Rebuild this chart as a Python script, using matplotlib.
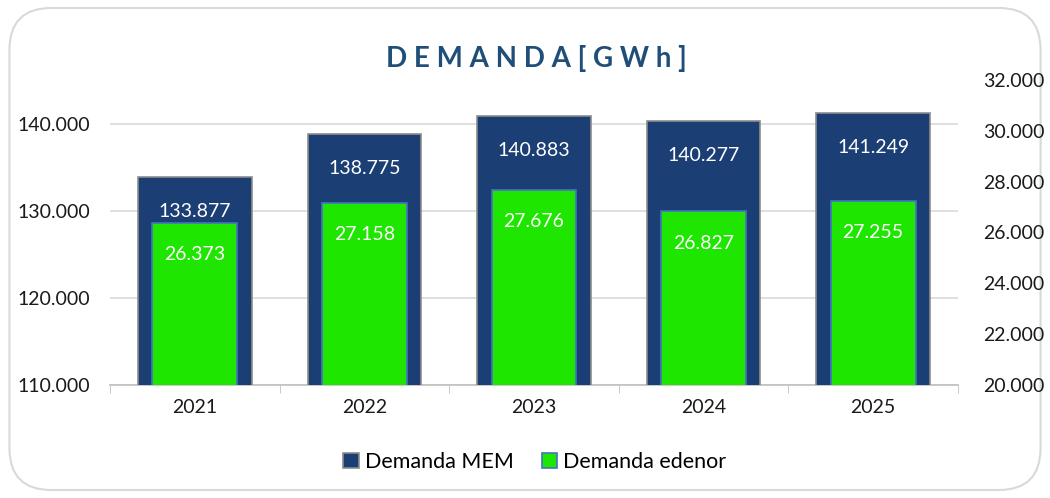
import numpy as np
import matplotlib.pyplot as plt
from matplotlib.patches import FancyBboxPatch

plt.rcParams['font.family'] = ['Lato', 'DejaVu Sans']

years = ['2021', '2022', '2023', '2024', '2025']
demanda_mem = [133877, 138775, 140883, 140277, 141249]
demanda_edenor = [26373, 27158, 27676, 26827, 27255]


def fmt(v):
    return f'{v:,.0f}'.replace(',', '.')


fig = plt.figure(figsize=(10.5, 4.98), dpi=100)
border = FancyBboxPatch((0.009, 0.016), 0.982, 0.968, boxstyle='round,pad=0,rounding_size=0.04',
                        transform=fig.transFigure, facecolor='white', edgecolor='#D9D9D9',
                        linewidth=1.5, mutation_aspect=1050 / 498, zorder=-5)
fig.patches.append(border)

ax = fig.add_axes([110 / 1050, 1 - 385 / 498, 848 / 1050, 305 / 498])
ax2 = ax.twinx()
ax.set_zorder(1)
ax2.set_zorder(2)
ax.patch.set_visible(False)
ax2.patch.set_visible(False)

x = np.arange(len(years))
b1 = ax.bar(x, demanda_mem, width=0.67, color='#1B3F74', edgecolor='#8C8C8C',
            linewidth=1.2, zorder=3)
ax.set_ylim(110000, 145000)
ax.set_xlim(-0.5, len(years) - 0.5)
ax.set_yticks([110000, 120000, 130000, 140000])
ax.set_yticklabels([fmt(v) for v in [110000, 120000, 130000, 140000]])
ax.grid(axis='y', color='#D9D9D9', linewidth=1.2, zorder=0)
ax.set_xticks(x)
ax.set_xticklabels(years)
ax.set_xticks(np.arange(-0.5, len(years)), minor=True)
ax.tick_params(axis='x', which='major', length=0, pad=10)
ax.tick_params(axis='x', which='minor', length=6, color='#BFBFBF')
ax.tick_params(axis='y', length=0, pad=14)
for s in ['top', 'right', 'left']:
    ax.spines[s].set_visible(False)
ax.spines['bottom'].set_color('#BFBFBF')
ax.spines['bottom'].set_linewidth(1.2)

b2 = ax2.bar(x, demanda_edenor, width=0.5, color='#1EE600', edgecolor='#4472C4',
             linewidth=1.2, zorder=3)
ax2.set_ylim(20000, 32000)
ax2.set_yticks(np.arange(20000, 32001, 2000))
ax2.set_yticklabels([fmt(v) for v in np.arange(20000, 32001, 2000)])
ax2.tick_params(axis='y', length=0, pad=18)
for s in ax2.spines.values():
    s.set_visible(False)

for t in ax.get_xticklabels() + ax.get_yticklabels() + ax2.get_yticklabels():
    t.set_fontsize(14)
    t.set_color('#1A1A1A')

ax.bar_label(b1, labels=[fmt(v) for v in demanda_mem], label_type='edge', padding=-31,
             color='white', fontsize=14, zorder=5)
ax2.bar_label(b2, labels=[fmt(v) for v in demanda_edenor], label_type='edge', padding=-29,
              color='white', fontsize=14, zorder=5)

fig.text(536 / 1050, 1 - 58 / 498, 'D E M A N D A [ G W h ]', ha='center', va='center',
         fontsize=20, fontweight='bold', color='#1F4E79')

handles = [b1, b2]
fig.legend(handles, ['Demanda MEM', 'Demanda edenor'], loc='center',
           bbox_to_anchor=(535 / 1050, 1 - 462 / 498), ncol=2, frameon=False, fontsize=15.5,
           handlelength=0.7, handleheight=0.7, handletextpad=0.3, columnspacing=1.3)

fig.savefig('out.png', dpi=100)
